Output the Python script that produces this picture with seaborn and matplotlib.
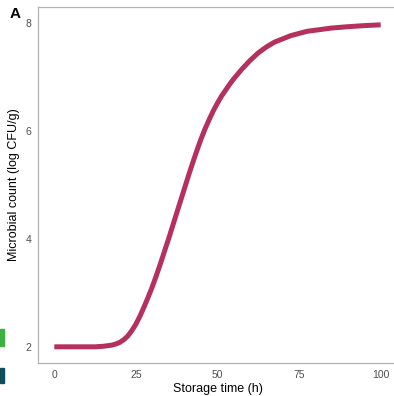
import matplotlib
matplotlib.use("Agg")
import matplotlib.pyplot as plt
import matplotlib.patches as mpatches
import seaborn as sns
import pandas as pd

# Growth curve of the microbial population during storage
storage_time_h = [0, 5, 10, 12.5, 15, 16.25, 17.5, 18.75, 20, 21.25, 22.5,
                  23.75, 25, 26.25, 27.5, 28.75, 30, 31.25, 32.5, 33.75, 35,
                  36.25, 37.5, 38.75, 40, 41.25, 42.5, 43.75, 45, 46.25, 47.5,
                  48.75, 50, 51.25, 52.5, 53.75, 55, 57.5, 60, 62.5, 65, 67.5,
                  70, 72.5, 75, 77.5, 80, 85, 90, 95, 100]
log_cfu_per_g = [2.00, 2.00, 2.00, 2.00, 2.01, 2.02, 2.03, 2.05, 2.08, 2.13,
                 2.20, 2.30, 2.42, 2.57, 2.74, 2.92, 3.11, 3.32, 3.54, 3.77,
                 4.00, 4.24, 4.48, 4.72, 4.96, 5.20, 5.43, 5.65, 5.86, 6.05,
                 6.22, 6.38, 6.52, 6.65, 6.76, 6.87, 6.97, 7.15, 7.31, 7.45,
                 7.56, 7.65, 7.71, 7.77, 7.81, 7.85, 7.87, 7.91, 7.935, 7.955,
                 7.97]
x_ticks = [0, 25, 50, 75, 100]
y_ticks = [2, 4, 6, 8]

df = pd.DataFrame({"time": storage_time_h, "count": log_cfu_per_g})

sns.set_style("white")
plt.rcParams["font.family"] = ["Liberation Sans", "DejaVu Sans"]

W, H = 394, 396
fig = plt.figure(figsize=(W / 100, H / 100), dpi=100)
ax = fig.add_axes([38 / W, 33 / H, 359 / W, 356 / H])

sns.lineplot(data=df, x="time", y="count", ax=ax, color="#B5305F",
             linewidth=3.6, solid_capstyle="butt", solid_joinstyle="round")

ax.set_xlim(-5, 105)
ax.set_ylim(1.7, 8.3)
ax.set_xticks(x_ticks)
ax.set_yticks(y_ticks)
ax.set_xticklabels([str(v) for v in x_ticks])
ax.set_yticklabels([str(v) for v in y_ticks])

grey = "#b3b3b3"
for side in ["left", "bottom", "top"]:
    ax.spines[side].set_color(grey)
    ax.spines[side].set_linewidth(0.9)
ax.spines["right"].set_visible(False)

ax.tick_params(axis="both", direction="out", length=3, width=0.8,
               color="#555555", labelcolor="#4d4d4d", labelsize=7.5, pad=2)

ax.set_xlabel("Storage time (h)", fontsize=9, color="black", labelpad=2)
ax.set_ylabel("Microbial count (log CFU/g)", fontsize=9, color="black",
              labelpad=4)

fig.text(10 / W, 1 - 14 / H, "A", fontsize=11, fontweight="bold",
         color="black", ha="left", va="center")

# slivers of neighbouring panels at the left edge
fig.patches.append(mpatches.Rectangle((0, 1 - 346 / H), 4 / W, 17 / H,
                                      transform=fig.transFigure,
                                      color="#3cb043", zorder=5))
fig.patches.append(mpatches.Rectangle((0, 1 - 383 / H), 4 / W, 15 / H,
                                      transform=fig.transFigure,
                                      color="#0f4c5c", zorder=5))

fig.savefig("out.png", dpi=100)
